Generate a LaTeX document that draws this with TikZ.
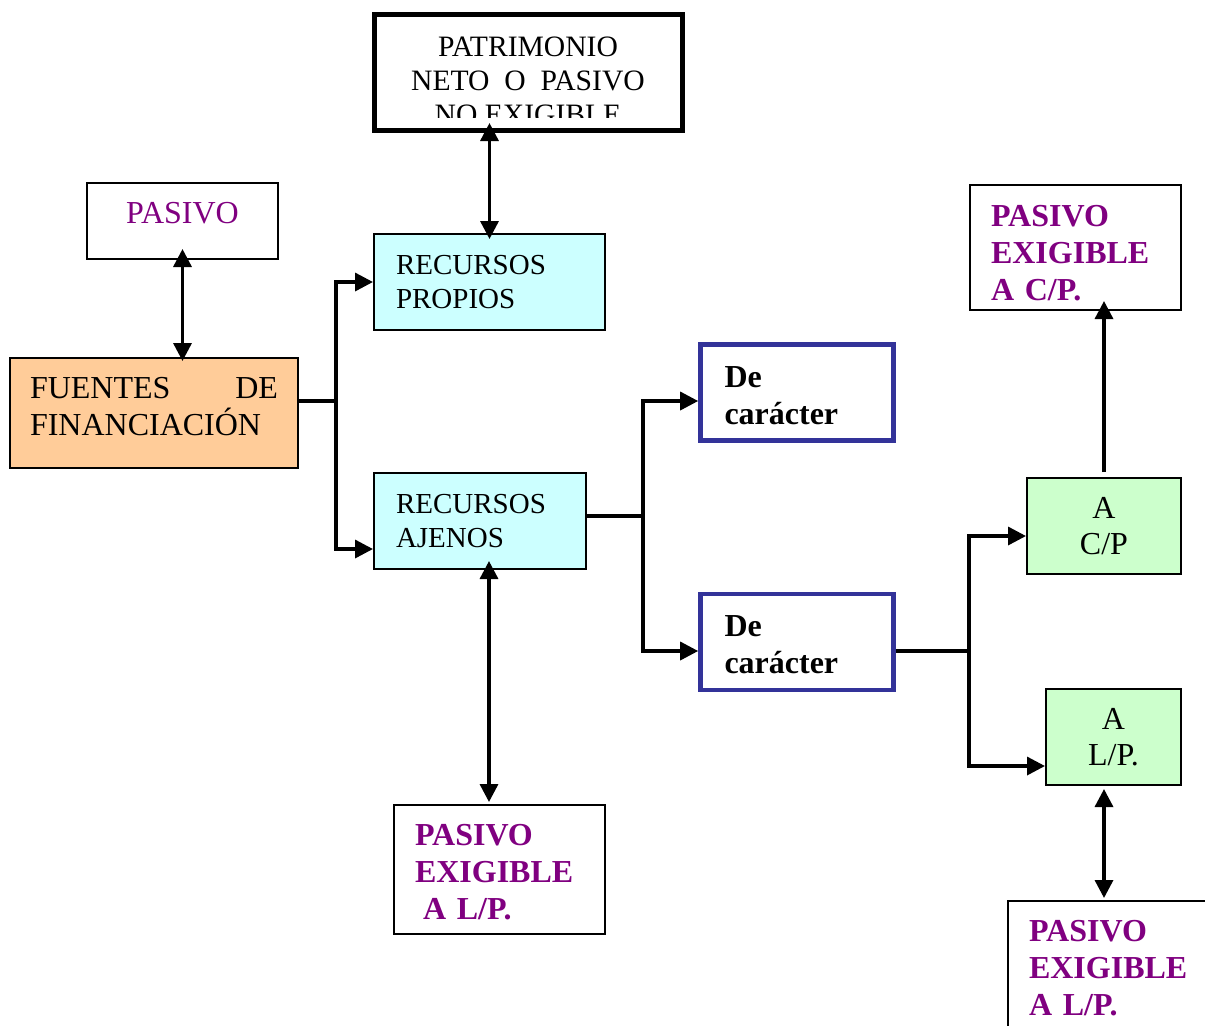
\documentclass[tikz,border=0pt]{standalone}
\usepackage{fontspec}
\setmainfont{Liberation Serif}
\usepackage{tikz}
\usetikzlibrary{arrows.meta,calc}
\definecolor{CianRecurso}{RGB}{204,255,255}
\definecolor{NaranjaFuente}{RGB}{255,204,153}
\definecolor{VerdePlazo}{RGB}{204,255,204}
\definecolor{AzulCaracter}{RGB}{51,51,153}
\definecolor{MoradoPasivo}{RGB}{128,0,128}

\begin{document}
\begin{tikzpicture}[x=0.5pt,y=-0.5pt,>={Triangle[length=9pt,width=9pt]},
  caja/.style={draw,line width=1pt,inner ysep=0pt},
  recurso/.style={caja,fill=CianRecurso,align=left,inner xsep=11pt,
    minimum height=48pt,font=\fontsize{14.5}{17}\selectfont},
  caracter/.style={draw=AzulCaracter,line width=2.3pt,align=left,inner xsep=12pt,
    inner ysep=0pt,text width=72.5pt,minimum height=48pt,
    font=\bfseries\fontsize{16}{18.5}\selectfont,
    execute at begin node={\rule{0pt}{13.6pt}}},
  plazo/.style={caja,fill=VerdePlazo,align=center,minimum height=48pt,
    font=\fontsize{16}{18}\selectfont},
  exigible/.style={caja,align=left,text=MoradoPasivo,inner xsep=10.5pt,
    text width=84.5pt,font=\bfseries\fontsize{16}{18.5}\selectfont,
    execute at begin node={\rule{0pt}{13.6pt}}},
  linea/.style={line width=1.7pt},
  flecha/.style={linea,->},
  doble/.style={linea,<->}]
  \clip (0,0) rectangle (1205,1025);

  \node[caja,line width=2.5pt,minimum width=154pt,minimum height=58pt] (patrim) at (528.5,72.5) {};
  \begin{scope}
    \clip (376,17) rectangle (680,117);
    \node[align=center,inner sep=0pt,font=\fontsize{14.8}{17}\selectfont] (patrimtxt) at (528,80.5)
      {PATRIMONIO\\NETO\ \ O\ \ PASIVO\\NO EXIGIBLE};
  \end{scope}

  \node[caja,minimum width=95.5pt,minimum height=38pt,text=MoradoPasivo,text height=10.8pt,
    text depth=8pt,font=\fontsize{16}{18}\selectfont] (pasivo) at (182.5,221) {PASIVO};
  \node[caja,fill=NaranjaFuente,align=left,text width=124pt,inner xsep=10pt,minimum height=55pt,
    font=\fontsize{16}{18.5}\selectfont] (fuentes) at (154,413)
    {FUENTES\hfill DE\\FINANCIACIÓN\rule[-6.5pt]{0pt}{1pt}};

  \node[recurso,text width=93.5pt] (propios) at (489.5,282) {RECURSOS\\PROPIOS};
  \node[recurso,text width=84pt] (ajenos) at (480,521) {RECURSOS\\AJENOS};
  \node[exigible,minimum height=64.5pt] (exiglp) at (499.5,869.5)
    {PASIVO\\EXIGIBLE\\\hspace*{4pt}A L/P.};

  \node[caracter] (car1) at (797,392.5) {De\\carácter};
  \node[caracter] (car2) at (797,642) {De\\carácter};

  \node[plazo,minimum width=77pt] (acp) at (1104,526) {A\\C/P};
  \node[plazo,minimum width=67.5pt] (alp) at (1113.5,737) {A\\L/P.};
  \node[exigible,minimum height=62.5pt,execute at begin node={\rule{0pt}{16.6pt}}] (exigcp)
    at (1075.5,247.5) {PASIVO\\EXIGIBLE\\A C/P.};
  \node[exigible,minimum height=64.5pt] (exiglpder) at (1113.5,965.5) {PASIVO\\EXIGIBLE\\A L/P.};

  \draw[doble,shorten <=-3pt,shorten >=-5pt] (propios.north) -- (propios.north |- patrim.south);
  \draw[doble,shorten <=-5.5pt,shorten >=-2pt] (pasivo.south) -- (pasivo.south |- fuentes.north);
  \draw[doble,shorten <=-4.5pt,shorten >=1pt] ([xshift=4.5pt]ajenos.south)
       -- ([xshift=4.5pt]ajenos.south |- exiglp.north);
  \draw[flecha,shorten >=-5pt] ([yshift=2.5pt]acp.north) -- (acp.north |- exigcp.south);
  \draw[doble,shorten <=1.5pt,shorten >=1pt] ([xshift=-4.75pt]alp.south)
       -- ([xshift=-4.75pt]alp.south |- exiglpder.north);

  \coordinate (cruce1) at (336,401);
  \draw[linea] ([yshift=6pt]fuentes.east) -- (cruce1);
  \draw[flecha] (cruce1) |- (propios.west);
  \draw[flecha] (cruce1) |- ([yshift=-14pt]ajenos.west);

  \coordinate (cruce2) at (643,516);
  \draw[linea] ([yshift=2.5pt]ajenos.east) -- (cruce2);
  \draw[flecha] (cruce2) |- ([yshift=-4.25pt]car1.west);
  \draw[flecha] (cruce2) |- ([yshift=-4.5pt]car2.west);

  \coordinate (cruce3) at (969,651);
  \draw[linea] ([yshift=-4.5pt]car2.east) -- (cruce3);
  \draw[flecha] (cruce3) |- ([yshift=-5pt]acp.west);
  \draw[flecha] (cruce3) |- ([yshift=-14.5pt]alp.west);
\end{tikzpicture}
\end{document}
